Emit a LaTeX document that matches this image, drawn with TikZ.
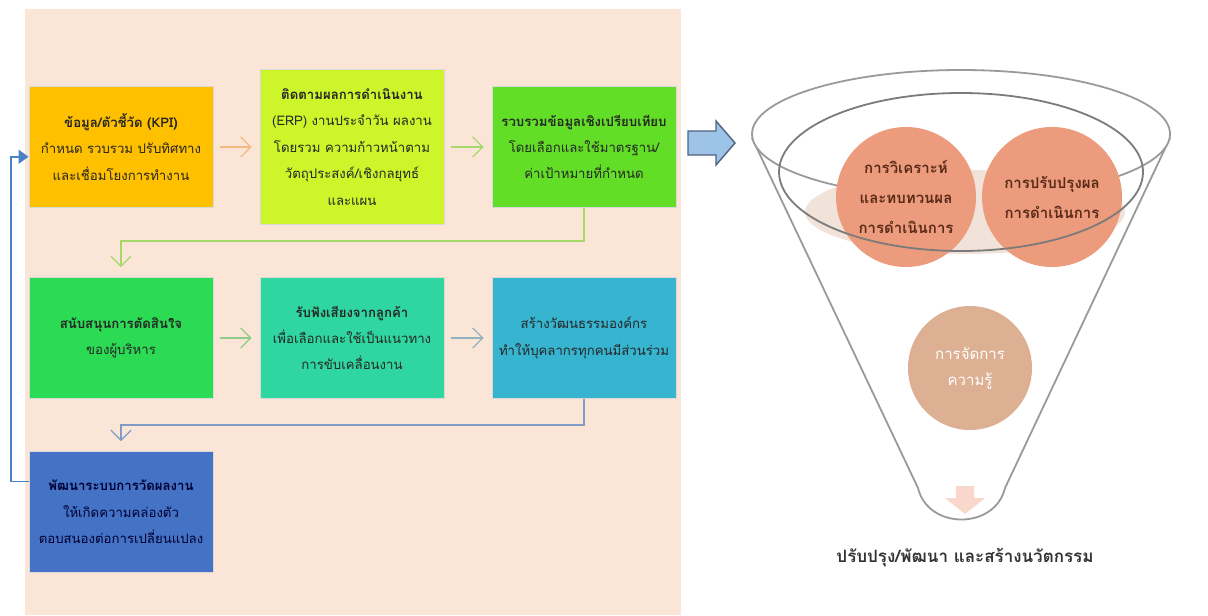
\documentclass[tikz,border=0pt]{standalone}
\usepackage{fontspec}
\newfontfamily\thai[Script=Thai]{Loma}
\usetikzlibrary{arrows.meta,calc,positioning}
\definecolor{peach}{HTML}{FBE5D6}
\definecolor{cA}{HTML}{FFC000}
\definecolor{cB}{HTML}{CCF52A}
\definecolor{cC}{HTML}{62DE26}
\definecolor{cD}{HTML}{2BDB54}
\definecolor{cE}{HTML}{30D6A0}
\definecolor{cF}{HTML}{36B4D0}
\definecolor{cG}{HTML}{4472C4}
\definecolor{arrOr}{HTML}{F4B982}
\definecolor{arrLg}{HTML}{A6D96A}
\definecolor{arrGr}{HTML}{8FCB8A}
\definecolor{arrGb}{HTML}{8FB4C0}
\definecolor{arrBl}{HTML}{7E9CC6}
\definecolor{fb}{HTML}{4A82C8}
\definecolor{circ}{HTML}{EC9C7C}
\definecolor{circT}{HTML}{DDAF93}
\definecolor{circTxt}{HTML}{5A2A18}
\definecolor{band}{HTML}{F1E2DA}
\definecolor{fun}{HTML}{9A9A9A}
\definecolor{bigA}{HTML}{9DC3E6}
\definecolor{bigAd}{HTML}{4F6280}
\definecolor{downA}{HTML}{FAD7CB}
\begin{document}
\begin{tikzpicture}[x=0.5pt,y=-0.5pt,
  box/.style={draw=white!70!gray, line width=0.5pt, minimum width=92pt, minimum height=60.5pt,
    align=center, inner sep=2pt, font=\thai\fontsize{6.6}{13.2}\selectfont, text=black!85},
  conn/.style={line width=0.7pt, -{Straight Barb[length=5pt,width=10pt,line width=0.6pt]}},
  bubble/.style={circle, minimum size=70pt, inner sep=0pt, align=center,
    font=\thai\bfseries\fontsize{7.5}{15}\selectfont, text=circTxt}]
\useasboundingbox (0,0) rectangle (1208,615);
\fill[white] (0,0) rectangle (1208,615);
\fill[peach] (25,9) rectangle (681,615);

% boxes
\node[box, fill=cA] (b1) at (121,147) {{\bfseries ข้อมูล/ตัวชี้วัด (KPI)}\\กำหนด รวบรวม ปรับทิศทาง\\และเชื่อมโยงการทำงาน};
\node[box, fill=cB, minimum height=77.5pt] (b2) at (352,147) {{\bfseries ติดตามผลการดำเนินงาน}\\(ERP) งานประจำวัน ผลงาน\\โดยรวม ความก้าวหน้าตาม\\วัตถุประสงค์/เชิงกลยุทธ์\\และแผน};
\node[box, fill=cC] (b3) at (584,147) {{\bfseries รวบรวมข้อมูลเชิงเปรียบเทียบ}\\โดยเลือกและใช้มาตรฐาน/\\ค่าเป้าหมายที่กำหนด};
\node[box, fill=cD] (b4) at (121,338) {{\bfseries สนับสนุนการตัดสินใจ}\\ของผู้บริหาร};
\node[box, fill=cE] (b5) at (352,338) {{\bfseries รับฟังเสียงจากลูกค้า}\\เพื่อเลือกและใช้เป็นแนวทาง\\การขับเคลื่อนงาน};
\node[box, fill=cF] (b6) at (584,338) {สร้างวัฒนธรรมองค์กร\\ทำให้บุคลากรทุกคนมีส่วนร่วม};
\node[box, fill=cG, text=black!80!blue] (b7) at (121,512) {{\bfseries พัฒนาระบบการวัดผลงาน}\\ให้เกิดความคล่องตัว\\ตอบสนองต่อการเปลี่ยนแปลง};

% connectors
\draw[conn, arrOr, shorten <=3pt, shorten >=4pt] (b1) -- (b2);
\draw[conn, arrLg, shorten <=3pt, shorten >=4pt] (b2) -- (b3);
\draw[conn, arrGr, shorten <=3pt, shorten >=4pt] (b4) -- (b5);
\draw[conn, arrGb, shorten <=3pt, shorten >=4pt] (b5) -- (b6);
\coordinate (m1) at (0,241);
\coordinate (m2) at (0,425);
\draw[conn, arrLg, shorten >=5pt] (b3.south) -- (b3.south |- m1) -| (b4.north);
\draw[conn, arrBl, shorten >=5pt] (b6.south) -- (b6.south |- m2) -| (b7.north);
\coordinate (fbx) at (11,0);
\coordinate (p7) at ($(b7.north west)!0.25!(b7.south west)$);
\coordinate (p1) at ($(b1.north west)!0.58!(b1.south west)$);
\draw[fb, line width=0.9pt, -{Triangle[length=5pt,width=7pt]}] (p7) -- (p7 -| fbx) |- (p1);

% big block arrow
\draw[fill=bigA, draw=bigAd, line width=0.7pt]
  (688,131) -- (716,131) -- (716,121) -- (735,143) -- (716,165) -- (716,155) -- (688,155) -- cycle;

% funnel
\draw[fun, line width=0.9pt, fill=white] (752,138) -- (918,488) .. controls (928,530) and (995,530) .. (1005,488) -- (1170,138);
\draw[fun, line width=0.9pt, fill=white] (961,134) ellipse [x radius=209, y radius=64];
\fill[band] (965,212) ellipse [x radius=160, y radius=42];
\node[bubble, fill=circ] (c1) at (906,197) {การวิเคราะห์\\และทบทวนผล\\การดำเนินการ};
\node[bubble, fill=circ] (c2) at (1052,197) {การปรับปรุงผล\\การดำเนินการ};
\draw[fun!80!black, line width=0.9pt] (961,172) ellipse [x radius=182, y radius=79];
\node[bubble, fill=circT, text=white, minimum size=62pt, font=\thai\fontsize{7.5}{13}\selectfont] (c3) at (970,368) {การจัดการ\\ความรู้};
\fill[downA] (956,486) -- (974,486) -- (974,498) -- (985,498) -- (965,514) -- (945,498) -- (956,498) -- cycle;
\node[font=\thai\bfseries\fontsize{8.5}{10}\selectfont, text=black!80] (t) at (965,558) {ปรับปรุง/พัฒนา และสร้างนวัตกรรม};
\end{tikzpicture}
\end{document}
